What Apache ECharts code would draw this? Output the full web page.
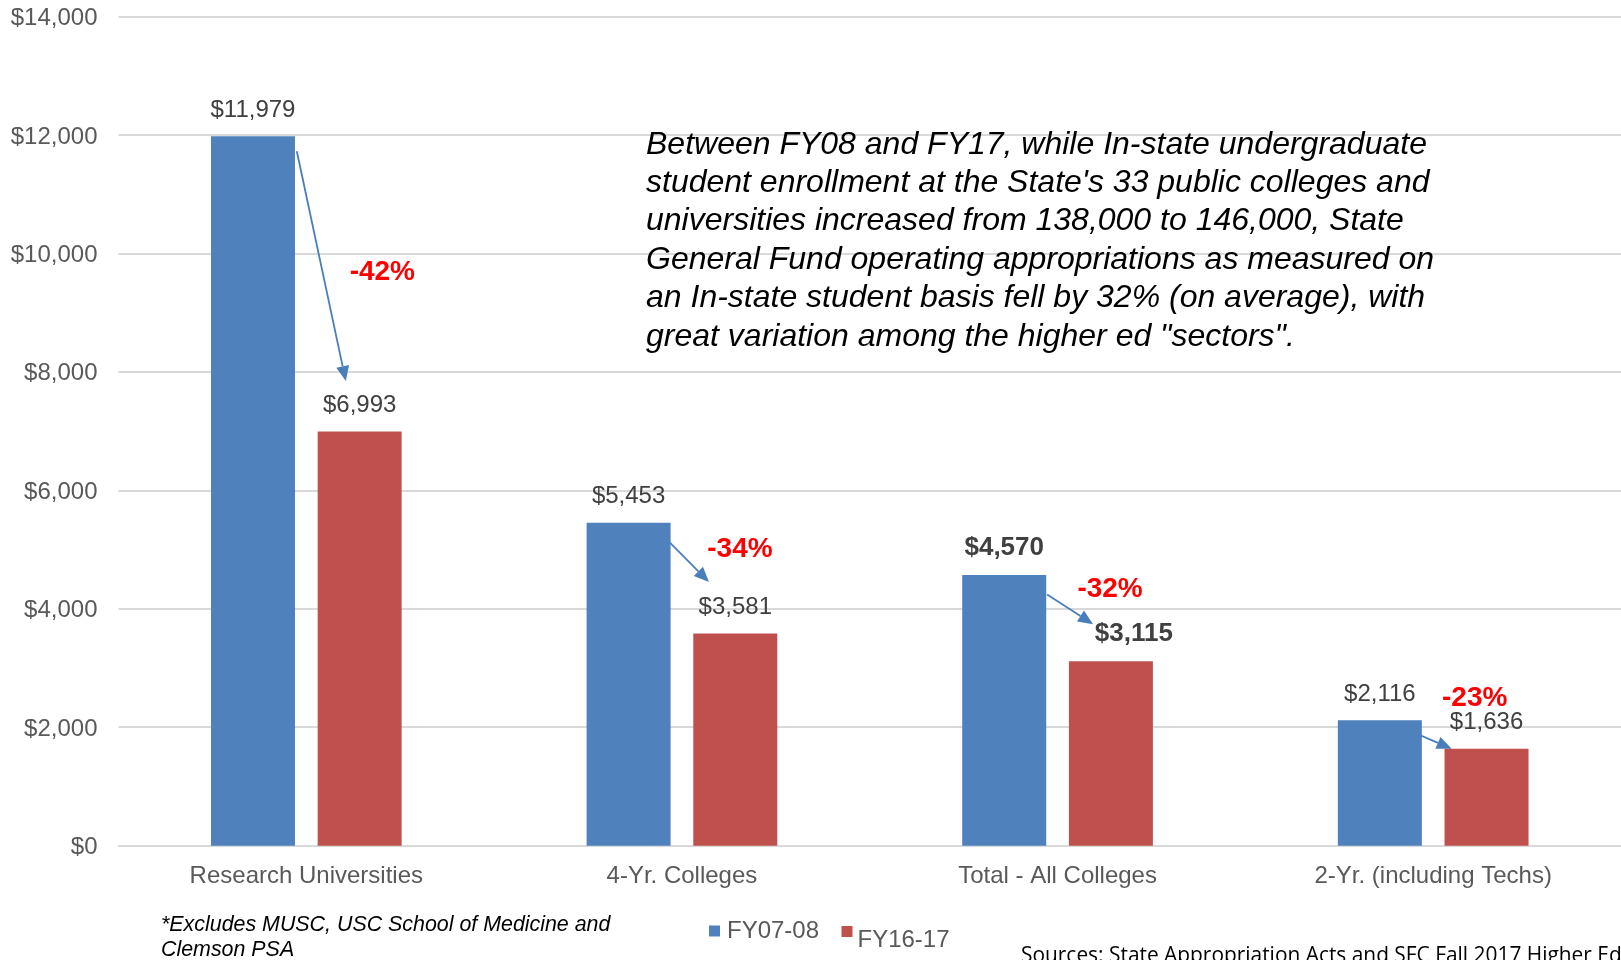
<!DOCTYPE html>
<html>
<head>
<meta charset="utf-8">
<script src="https://cdn.jsdelivr.net/npm/echarts@6/dist/echarts.min.js"></script>
<style>
  html, body { margin: 0; padding: 0; background: #fff; }
  #chart { width: 1621px; height: 960px; }
</style>
</head>
<body>
<div id="chart"></div>
<script>
// Per-student state appropriations by higher-ed sector
const categories = ['Research Universities', '4-Yr. Colleges', 'Total - All Colleges', '2-Yr. (including Techs)'];
const fy0708 = [11979, 5453, 4570, 2116];
const fy1617 = [6993, 3581, 3115, 1636];
const seriesNames = ['FY07-08', 'FY16-17'];
const yMin = 0, yMax = 14000, yStep = 2000;
const boldCategory = 2; // the all-colleges totals are emphasised

const annotationLines = [
  'Between FY08 and FY17, while In-state undergraduate',
  "student enrollment at the State's 33 public colleges and",
  'universities increased from 138,000 to 146,000, State',
  'General Fund operating appropriations as measured on',
  'an In-state student basis fell by 32% (on average), with',
  'great variation among the higher ed "sectors".'
];
const footnoteLines = ['*Excludes MUSC, USC School of Medicine and', 'Clemson PSA'];
const sourceText = 'Sources: State Appropriation Acts and SFC Fall 2017 Higher Ed';

// Placement of the change arrows and percentage callouts, relative to
// each category centre (dx) and to the top of the bars (dy).
const arrowLayout = [
  { from: [-9.5, 15], to: [39.5, -50.5] },
  { from: [-15, 17], to: [27, -51.6] },
  { from: [-10.5, 19.5], to: [35.5, -37] },
  { from: [-27.5, 8.6], to: [18.5, 0] }
];
const pctLayout = [[76, -159.5], [58, -84.6], [52.5, -72], [41.5, -50.8]];
const redLabelOffset = { 2: [23, 0] };

const FONT = '"Liberation Sans", Arial, sans-serif';
const BLUE = '#4f81bd', RED = '#c0504d', ARROW = '#4a7ebb';

const money = v => '$' + Number(v).toLocaleString('en-US');

function barData(values, offsets) {
  return values.map((v, i) => {
    const item = { value: v };
    const lab = {};
    if (i === boldCategory) { lab.fontWeight = 'bold'; lab.fontSize = 26; }
    if (offsets && offsets[i]) lab.offset = offsets[i];
    if (Object.keys(lab).length) item.label = lab;
    return item;
  });
}

const chart = echarts.init(document.getElementById('chart'), null, { renderer: 'canvas' });

const labelStyle = {
  show: true, position: 'top', distance: 14,
  formatter: p => money(p.value),
  fontFamily: FONT, fontSize: 24, color: '#404040'
};

chart.setOption({
  animation: false,
  backgroundColor: '#fff',
  grid: { left: 118.5, top: 16.5, width: 1504, height: 829.2, containLabel: false },
  xAxis: {
    type: 'category',
    data: categories,
    axisLine: { lineStyle: { color: '#d9d9d9', width: 2 } },
    axisTick: { show: false },
    axisLabel: { fontFamily: FONT, fontSize: 24, color: '#595959', margin: 19, interval: 0 }
  },
  yAxis: {
    type: 'value',
    min: yMin, max: yMax, interval: yStep,
    axisLine: { show: false },
    axisTick: { show: false },
    splitLine: { lineStyle: { color: '#d9d9d9', width: 2 } },
    axisLabel: {
      fontFamily: FONT, fontSize: 24, color: '#595959', margin: 21,
      formatter: v => '{t|' + money(v) + '}',
      rich: { t: { fontFamily: FONT, fontSize: 24, color: '#595959', padding: [4, 0, 0, 0] } }
    }
  },
  legend: [
    {
      data: [seriesNames[0]], left: 709, top: 919, padding: 0,
      itemWidth: 11, itemHeight: 11, itemGap: 0, icon: 'rect',
      textStyle: { fontFamily: FONT, fontSize: 24, color: '#595959', padding: [0, 0, 0, 2] }
    },
    {
      data: [seriesNames[1]], left: 841.5, top: 926, padding: 0,
      itemWidth: 11, itemHeight: 11, itemGap: 0, icon: 'rect',
      formatter: name => '{low|' + name + '}',
      textStyle: {
        fontFamily: FONT, fontSize: 24, color: '#595959',
        rich: { low: { fontFamily: FONT, fontSize: 24, color: '#595959', padding: [18, 0, 0, 0] } }
      }
    }
  ],
  series: [
    {
      name: seriesNames[0], type: 'bar', data: barData(fy0708),
      barWidth: 84, barGap: '27%',
      itemStyle: { color: BLUE },
      label: labelStyle
    },
    {
      name: seriesNames[1], type: 'bar', data: barData(fy1617, redLabelOffset),
      barWidth: 84, barGap: '27%',
      itemStyle: { color: RED },
      label: labelStyle
    }
  ]
});

// Arrows, percentage callouts and text blocks, positioned from the axes.
function drawOverlays() {
  const elements = [];
  categories.forEach((c, i) => {
    const topA = chart.convertToPixel({ gridIndex: 0 }, [i, fy0708[i]]);
    const topB = chart.convertToPixel({ gridIndex: 0 }, [i, fy1617[i]]);
    const cx = topA[0];
    const a = arrowLayout[i];
    const x1 = cx + a.from[0], y1 = topA[1] + a.from[1];
    const x2 = cx + a.to[0], y2 = topB[1] + a.to[1];
    const ang = Math.atan2(y2 - y1, x2 - x1);
    const headLen = 15, headHalf = 6.5;
    const bx = x2 - headLen * Math.cos(ang), by = y2 - headLen * Math.sin(ang);
    const nx = -Math.sin(ang) * headHalf, ny = Math.cos(ang) * headHalf;
    elements.push({
      type: 'line', silent: true,
      shape: { x1, y1, x2: bx, y2: by },
      style: { stroke: ARROW, lineWidth: 1.8 }
    });
    elements.push({
      type: 'polygon', silent: true,
      shape: { points: [[x2, y2], [bx + nx, by + ny], [bx - nx, by - ny]] },
      style: { fill: ARROW }
    });
    const pct = Math.round((fy1617[i] - fy0708[i]) / fy0708[i] * 100);
    elements.push({
      type: 'text', silent: true,
      x: cx + pctLayout[i][0], y: topB[1] + pctLayout[i][1],
      style: {
        text: pct + '%', fill: '#ff0000',
        font: 'bold 28px ' + FONT, align: 'center', verticalAlign: 'middle'
      }
    });
  });

  elements.push({
    type: 'text', silent: true, x: 646, y: 125.5,
    style: {
      text: annotationLines.join('\n'), fill: '#000',
      font: 'italic 32px ' + FONT, lineHeight: 38.4, verticalAlign: 'top'
    }
  });
  elements.push({
    type: 'text', silent: true, x: 161, y: 912.5,
    style: {
      text: footnoteLines.join('\n'), fill: '#000',
      font: 'italic 21.4px ' + FONT, lineHeight: 25, verticalAlign: 'top'
    }
  });
  elements.push({
    type: 'text', silent: true, x: 1021, y: 956,
    style: {
      text: sourceText, fill: '#000',
      font: '20.9px "Open Sans", sans-serif', verticalAlign: 'middle'
    }
  });
  chart.setOption({ graphic: elements });
}
drawOverlays();
</script>
</body>
</html>
